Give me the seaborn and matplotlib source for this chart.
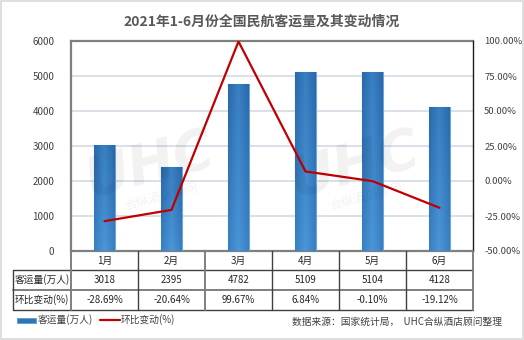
import numpy as np
import matplotlib
matplotlib.use("Agg")
import matplotlib.pyplot as plt
import seaborn as sns
import pandas as pd
from matplotlib.lines import Line2D
from matplotlib.patches import Rectangle

months = ["1月", "2月", "3月", "4月", "5月", "6月"]
passengers = [3018, 2395, 4782, 5109, 5104, 4128]
mom_change = [-28.69, -20.64, 99.67, 6.84, -0.10, -19.12]
left_ticks = [0, 1000, 2000, 3000, 4000, 5000, 6000]
right_ticks = [-50, -25, 0, 25, 50, 75, 100]

sns.set_style("white")
plt.rcParams["font.family"] = ["Noto Sans CJK SC", "DejaVu Sans"]

W, H = 524, 340
fig = plt.figure(figsize=(W / 100, H / 100), dpi=100)
fig.patch.set_facecolor("white")

def fx(px):
    return px / W

def fy(py):
    return 1 - py / H

x0, x1, ytop, ybot = 71, 473, 41, 251
ax = fig.add_axes([fx(x0), fy(ybot), fx(x1) - fx(x0), fy(ytop) - fy(ybot)])
df = pd.DataFrame({"month": months, "passengers": passengers, "mom": mom_change})

sns.barplot(data=df, x="month", y="passengers", ax=ax, width=0.3,
            color="#3A7FC1", edgecolor="#6FA6DA", linewidth=0.8, zorder=3)
ax.set_ylim(0, 6000)
ax.set_xlim(-0.5, 5.5)
ax.set_yticks(left_ticks)
ax.set_yticklabels([str(v) for v in left_ticks], fontsize=7, color="#404040")
ax.tick_params(axis="y", length=0, pad=12)
ax.set_xticks([])
ax.set_xlabel("")
ax.set_ylabel("")
for v in left_ticks[1:-1]:
    ax.axhline(v, color="#D3D9E4", lw=1.2, zorder=1)

# gradient fill for the bars
grad_h = np.abs(np.linspace(-1, 1, 64))
grad_v = np.linspace(0, 1, 64)[:, None]
shade = 0.5 * grad_h[None, :] + 0.5 * (1 - grad_v)
dark = np.array([0.16, 0.41, 0.67])
light = np.array([0.29, 0.59, 0.85])
img = light[None, None, :] * (1 - shade[..., None]) + dark[None, None, :] * shade[..., None]
for p in ax.patches:
    bx, by = p.get_x(), p.get_y()
    bw, bh = p.get_width(), p.get_height()
    im = ax.imshow(img, extent=[bx, bx + bw, by, by + bh], aspect="auto",
                   origin="upper", zorder=3.5)
    im.set_clip_path(p)
ax.set_xlim(-0.5, 5.5)
ax.set_ylim(0, 6000)

for side in ["left", "top", "bottom"]:
    ax.spines[side].set_color("#7F7F7F")
    ax.spines[side].set_linewidth(1.6)
ax.spines["right"].set_visible(False)

ax2 = ax.twinx()
sns.lineplot(x=np.arange(len(months)), y=mom_change, ax=ax2, color="#C00000",
             lw=1.6, sort=False, zorder=5)
ax2.set_ylim(-50, 100)
ax2.set_xlim(-0.5, 5.5)
ax2.set_yticks(right_ticks)
ax2.set_yticklabels([f"{v:.2f}%" for v in right_ticks], fontsize=6.8, color="#404040")
ax2.tick_params(axis="y", length=0, pad=8)
for side in ["left", "top", "bottom"]:
    ax2.spines[side].set_visible(False)
ax2.spines["right"].set_color("#1A1A1A")
ax2.spines["right"].set_linewidth(1.0)

# faint brand watermark
for (wx, wy) in [(150, 165), (355, 165)]:
    fig.text(fx(wx), fy(wy), "UHC", fontsize=40, fontweight="bold", style="italic",
             color="#000000", alpha=0.055, ha="center", va="center", rotation=15,
             family=["DejaVu Sans"])
    fig.text(fx(wx + 12), fy(wy + 32), "合纵酒店顾问", fontsize=9,
             color="#000000", alpha=0.055, ha="center", va="center", rotation=15)

# title
fig.text(fx(262), fy(22), "2021年1-6月份全国民航客运量及其变动情况", fontsize=10,
         fontweight="bold", color="#595959", ha="center", va="center")

# data table below the plot
cols = [71, 138, 205, 272, 339, 406, 473]
rows = [251, 270, 290, 310]
tbl_left = 13
grid_c = "#7F7F7F"

def hline(y, xa, xb, c=grid_c, lw=1.4):
    fig.add_artist(Line2D([fx(xa), fx(xb)], [fy(y), fy(y)], color=c, lw=lw))

def vline(x, ya, yb, c=grid_c, lw=1.4):
    fig.add_artist(Line2D([fx(x), fx(x)], [fy(ya), fy(yb)], color=c, lw=lw))

hline(270, tbl_left, 473, c="#404040", lw=1.0)
hline(290, tbl_left, 473, c="#7F7F7F", lw=1.4)
hline(310, tbl_left, 473, c="#404040", lw=1.0)
vline(tbl_left, 270, 310, c="#404040", lw=1.0)
for i, cx in enumerate(cols):
    c = "#7F7F7F" if i in (0, 2, 6) else "#404040"
    vline(cx, 251, 310, c=c, lw=1.4 if c == "#7F7F7F" else 1.0)

txt_c = "#262626"
for i, m in enumerate(months):
    cx = (cols[i] + cols[i + 1]) / 2
    fig.text(fx(cx), fy(260.5), m, fontsize=7, color=txt_c, ha="center", va="center")
    fig.text(fx(cx), fy(280), str(passengers[i]), fontsize=7, color=txt_c,
             ha="center", va="center")
    fig.text(fx(cx), fy(300), f"{mom_change[i]:.2f}%", fontsize=7, color=txt_c,
             ha="center", va="center")
fig.text(fx(15), fy(280), "客运量(万人)", fontsize=7, color=txt_c, ha="left", va="center")
fig.text(fx(15), fy(300), "环比变动(%)", fontsize=7, color=txt_c, ha="left", va="center")

# legend
fig.add_artist(Rectangle((fx(17), fy(322.5)), fx(19), fy(318) - fy(322.5),
                         transform=fig.transFigure, facecolor="#2E75B6",
                         edgecolor="#5B9BD5", lw=0.6))
fig.text(fx(38), fy(320), "客运量(万人)", fontsize=7, color="#404040", ha="left", va="center")
fig.add_artist(Line2D([fx(100), fx(120)], [fy(320), fy(320)], color="#C00000", lw=1.6))
fig.text(fx(121), fy(320), "环比变动(%)", fontsize=7, color="#404040", ha="left", va="center")
fig.text(fx(292), fy(322), "数据来源：国家统计局，  UHC合纵酒店顾问整理", fontsize=7,
         color="#404040", ha="left", va="center")

# outer frame
fig.add_artist(Rectangle((0.002, 0.003), 0.996, 0.994, transform=fig.transFigure,
                         fill=False, edgecolor="#D9D9D9", lw=1.2))

fig.savefig("out.png", dpi=100, facecolor="white")
